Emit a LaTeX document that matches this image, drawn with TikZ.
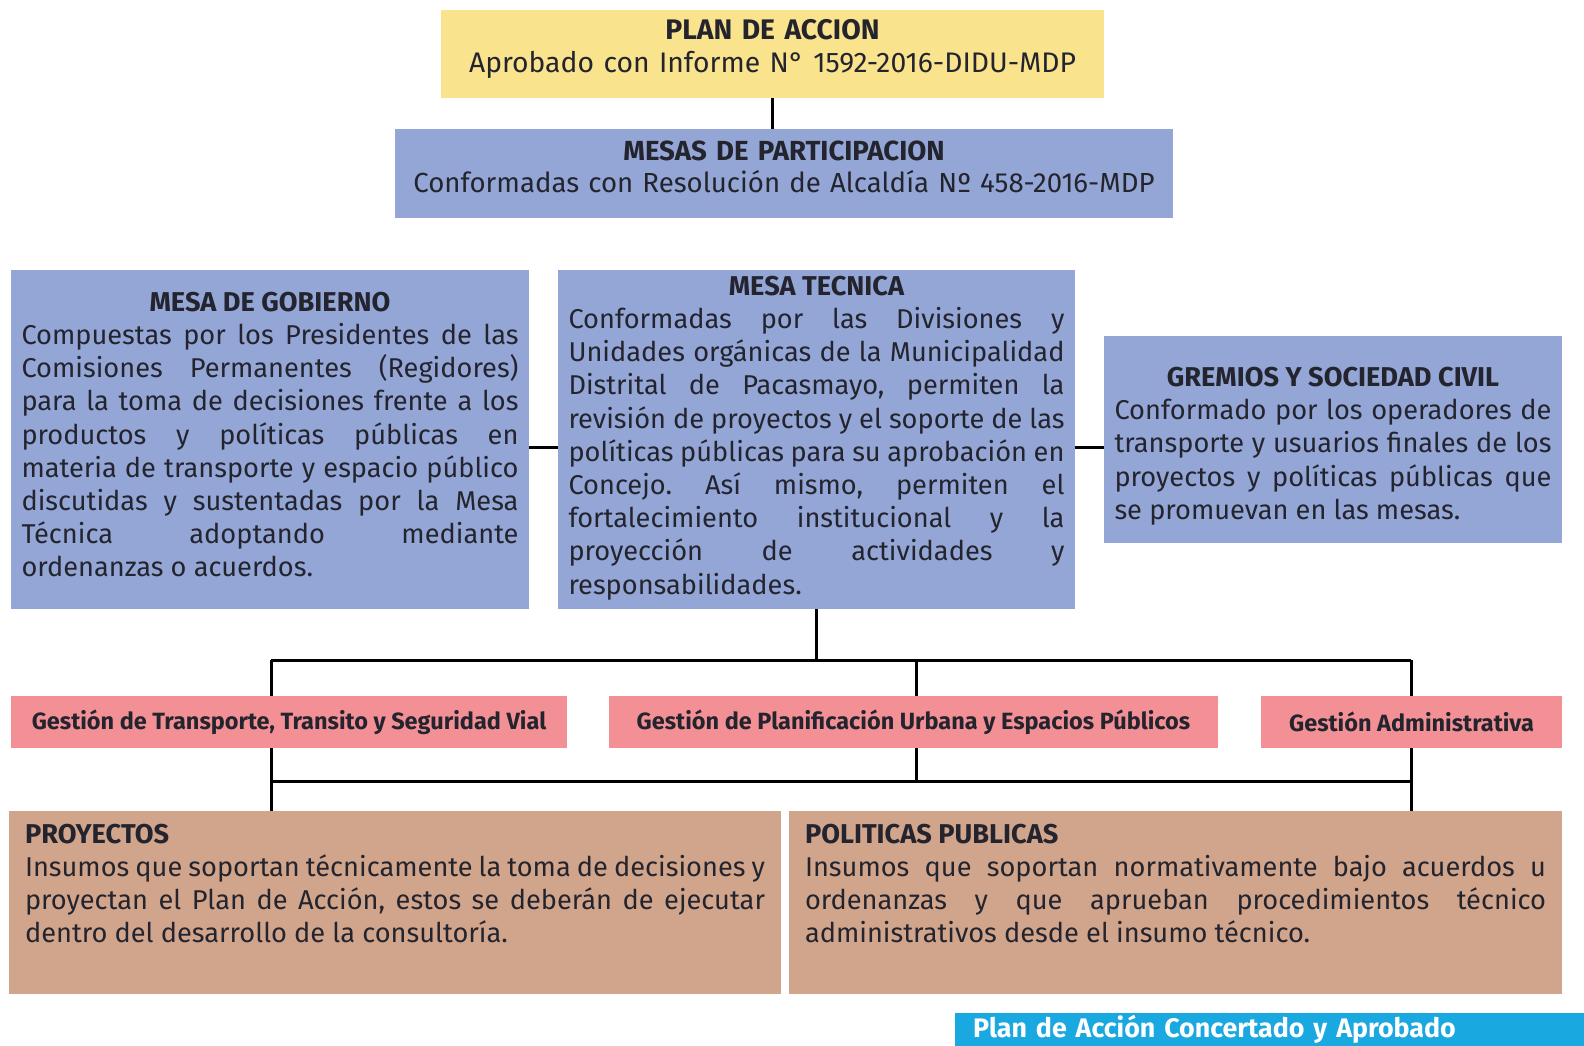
\documentclass[tikz,border=0pt]{standalone}
\usepackage{fontspec}
\setmainfont{Fira Sans}
\usetikzlibrary{backgrounds}
\definecolor{PlanYellow}{HTML}{F9E38C}
\definecolor{MesaBlue}{HTML}{93A6D6}
\definecolor{GestionPink}{HTML}{F39095}
\definecolor{InsumoBrown}{HTML}{D1A58C}
\definecolor{FooterCyan}{HTML}{1AA8E0}
\definecolor{TextDark}{HTML}{24242E}
\frenchspacing
\newcommand{\bodytext}{\fontsize{27.2}{33.2}\selectfont\tolerance=10000\hbadness=10000\hyphenpenalty=10000}
\newcommand{\headtext}{\fontsize{28.3}{32.3}\selectfont}
\newcommand{\gestiontext}{\bfseries\fontsize{23.5}{26}\selectfont}
\tikzset{
    every node/.style={text=TextDark, inner sep=0pt},
    toppanel/.style={
        fill=#1, font=\headtext, align=center
    },
    mesapanel/.style={
        fill=MesaBlue, font=\bodytext, align=justify,
        inner xsep=10.5pt
    },
    gestionpanel/.style={
        fill=GestionPink, font=\gestiontext, minimum height=52
    },
    insumopanel/.style={
        fill=InsumoBrown, minimum width=772, minimum height=183,
        inner xsep=16pt, inner ysep=13pt
    },
    footbar/.style={
        fill=FooterCyan, text=white, font=\bfseries\fontsize{26.8}{28}\selectfont,
        align=left, inner xsep=18pt, inner ysep=2pt
    },
    link/.style={draw=black, line width=3pt},
}

\begin{document}
\begin{tikzpicture}[x=1pt, y=-1pt]
    \useasboundingbox (0,0) rectangle (1584,1045);
    \clip (0,0) rectangle (1584,1045);

    % Plan and mesas
    \node[toppanel=PlanYellow, minimum width=663, minimum height=88, text width=663] (plan) at (772.5,54)
        {{\bfseries PLAN DE ACCION}\\Aprobado con Informe N° 1592-2016-DIDU-MDP\par\vspace{10pt}};
    \node[toppanel=MesaBlue, minimum width=778, minimum height=89, text width=778,
        font=\fontsize{27.6}{32.3}\selectfont] (mesas) at (784,173.5)
        {{\bfseries MESAS DE PARTICIPACION}\\Conformadas con Resolución de Alcaldía Nº 458-2016-MDP\par\vspace{13pt}};

    % Three mesas
    \node[mesapanel, minimum width=518, minimum height=339, text width=497] (gobierno) at (270,439.5)
        {{\centering\bfseries MESA DE GOBIERNO\par}
        Compuestas por los Presidentes de las\linebreak
        Comisiones Permanentes (Regidores)\linebreak
        para la toma de decisiones frente a los\linebreak
        productos y políticas públicas en\linebreak
        materia de transporte y espacio público\linebreak
        discutidas y sustentadas por la Mesa\linebreak
        Técnica adoptando mediante\linebreak
        ordenanzas o acuerdos.\par\vspace{10pt}};
    \node[mesapanel, minimum width=517, minimum height=339, text width=496] (tecnica) at (816.5,439.5)
        {{\centering\bfseries MESA TECNICA\par}
        Conformadas por las Divisiones y\linebreak
        Unidades orgánicas de la Municipalidad\linebreak
        Distrital de Pacasmayo, permiten la\linebreak
        revisión de proyectos y el soporte de las\linebreak
        políticas públicas para su aprobación en\linebreak
        Concejo. Así mismo, permiten el\linebreak
        fortalecimiento institucional y la\linebreak
        proyección de actividades y\linebreak
        responsabilidades.\par\vspace{3pt}};
    \node[mesapanel, minimum width=458, minimum height=207, text width=437] (gremios) at (1333,439.5)
        {{\centering\bfseries\rule{0pt}{32.7pt}GREMIOS Y SOCIEDAD CIVIL\par}
        Conformado por los operadores de\linebreak
        transporte y usuarios finales de los\linebreak
        proyectos y políticas públicas que\linebreak
        se promuevan en las mesas.};

    % Gestion areas
    \node[gestionpanel, minimum width=556] (transporte) at (289,722)
        {Gestión de Transporte, Transito y Seguridad Vial};
    \node[gestionpanel, minimum width=609] (planificacion) at (913.5,722)
        {Gestión de Planificación Urbana y Espacios Públicos};
    \node[gestionpanel, minimum width=301] (administrativa) at (1411.5,722)
        {Gestión Administrativa};

    % Insumos
    \node[insumopanel] (proyectos) at (395,902.5)
        {\parbox[c][157pt][t]{740pt}{\bodytext{\bfseries PROYECTOS}\\
        Insumos que soportan técnicamente la toma de decisiones y\linebreak
        proyectan el Plan de Acción, estos se deberán de ejecutar\linebreak
        dentro del desarrollo de la consultoría.}};
    \node[insumopanel, minimum width=773] (politicas) at (1175.5,902.5)
        {\parbox[c][157pt][t]{741pt}{\bodytext{\bfseries POLITICAS PUBLICAS}\\
        Insumos que soportan normativamente bajo acuerdos u\linebreak
        ordenanzas y que aprueban procedimientos técnico\linebreak
        administrativos desde el insumo técnico.}};

    % Footer
    \node[footbar, anchor=base west, text width=593, text depth=12pt] (footer) at (955,1037)
        {Plan de Acción Concertado y Aprobado};

    % Connectors
    \coordinate (midrow) at (0,447);
    \coordinate (busTL) at (271,660);
    \coordinate (busTM) at (916,660);
    \coordinate (busTR) at (1411,660);
    \coordinate (busBL) at (271,781);
    \coordinate (busBM) at (916,781);
    \coordinate (busBR) at (1411,781);
    \begin{scope}[on background layer]
        \fill[white] (0,0) rectangle (1584,1045);
        \draw[link] (plan.south) -- (plan.south |- mesas.north);
        \draw[link] (gobierno.east |- midrow) -- (tecnica.west |- midrow);
        \draw[link] (tecnica.east |- midrow) -- (gremios.west |- midrow);
        \draw[link] (tecnica.south) -- (tecnica.south |- busTM);
        \draw[link] (busTL) -- (busTR);
        \draw[link] (busBL) -- (busBR);
        \draw[link] (busTL) -- (busTL |- proyectos.north);
        \draw[link] (busTR) -- (busTR |- politicas.north);
        \draw[link] (busTM) -- (busBM);
    \end{scope}
\end{tikzpicture}
\end{document}
